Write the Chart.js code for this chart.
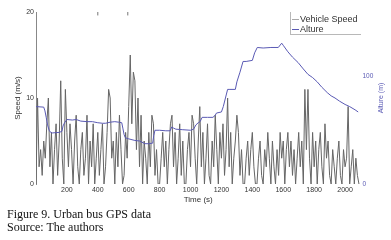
<!DOCTYPE html>
<html>
<head>
<meta charset="utf-8">
<script src="https://cdn.jsdelivr.net/npm/chart.js@4/dist/chart.umd.min.js"></script>
<style>
  html, body { margin: 0; padding: 0; background: #fff; }
  #wrap { position: relative; width: 391px; height: 240px; overflow: hidden; }
  #c { position: absolute; left: 0; top: 0; }
  .cap { position: absolute; left: 7px; font-family: "Liberation Serif", "Times New Roman", serif; font-size: 12px; line-height: 13px; color: #111; white-space: nowrap; }
  #legend { position: absolute; left: 290px; top: 12px; width: 70px; height: 22px; border-left: 1px solid #b8b8b8; border-bottom: 1px solid #b8b8b8; font-family: "Liberation Sans", Arial, sans-serif; font-size: 9px; color: #333; }
  .lg { position: absolute; left: 0; height: 10px; line-height: 10px; white-space: nowrap; }
  .lg i { display: inline-block; width: 7px; height: 1px; vertical-align: middle; margin: 0 1px 0 1px; }
  #ytitle2 { position: absolute; left: 380px; top: 98px; transform: translate(-50%, -50%) rotate(-90deg); font-family: "Liberation Sans", Arial, sans-serif; font-size: 7px; color: #5a5ab4; white-space: nowrap; }
</style>
</head>
<body>
<div id="wrap">
  <canvas id="c" width="391" height="240"></canvas>
  <div id="legend">
    <div class="lg" style="top:2px"><i style="background:#a8a8a8"></i>Vehicle Speed</div>
    <div class="lg" style="top:12px"><i style="background:#5a5ab4"></i>Alture</div>
  </div>
  <div id="ytitle2">Alture (m)</div>
  <div class="cap" style="top:208px">Figure 9. Urban bus GPS data</div>
  <div class="cap" style="top:221px">Source: The authors</div>
</div>
<script>
// ---- data ----
const SPEED_STEP = 10; // seconds between speed samples
const speedValues = [
  0,10,2,4,1,5,3,7,10,2, 6,0,4,7,1,5,12,3,0,11,
  6,2,7,4,0,5,8,2,0,4, 6,1,3,8,0,5,2,7,0,3,
  6,1,4,7,0,2,6,11,10,3, 5,0,6,2,8,4,0,1,6,3,
  9,15,7,13,12,4,10,2,8,0, 5,3,0,6,2,8,7,1,4,0,
  0,3,6,2,5,0,4,7,8,2, 6,0,3,7,1,5,0,0,4,6,
  2,8,7,3,0,5,9,2,6,0, 3,7,1,0,5,2,8,4,0,6,
  3,7,1,4,10,2,6,0,3,5, 8,6,1,4,0,0,3,5,1,4,
  6,2,0,0,3,5,1,0,4,2, 6,3,0,5,2,0,4,1,6,3,
  5,0,4,6,2,5,1,4,0,3, 6,2,5,0,11,4,11,3,0,6,
  2,5,0,4,6,2,0,7,3,5, 1,0,4,2,0,3,5,1,0,4,
  2,3,9,0,2,4,0,3,1,0
];
const altTime = [0,50,58,66,75,85,95,105,150,168,175,185,200,235,260,290,330,365,400,430,450,480,510,535,555,562,570,578,600,640,670,705,730,755,762,770,800,840,868,878,890,905,950,1000,1020,1035,1050,1062,1075,1110,1145,1160,1168,1200,1212,1240,1255,1290,1300,1320,1340,1360,1400,1415,1432,1470,1520,1568,1590,1600,1630,1660,1696,1730,1760,1790,1820,1850,1885,1910,1935,1965,2000,2030,2065,2085];
const altValues = [72,71.5,68,62,55,50,48,47.5,48,49,54,57,60,59.5,60,58.5,58,58,57,56.5,56.5,57.5,58,57.5,57,52,46,43,42,40.5,40,37.5,37.5,38,45,50,50,49.5,49.5,53,52,51,50.5,50,51,55,57,58,62,62,62,64,66,67,72,88,88,88,95,104,114,114,115,122,127,126.5,127,127,131,129,123,118,113,107,102,99,95,90,85,82,80,77,74,72,69,67];
const topMarkTimes = [400, 594];
const xTicks = [200,400,600,800,1000,1200,1400,1600,1800,2000];

const speedPts = speedValues.map((v, i) => ({x: i * SPEED_STEP, y: v}));
const altPts = altTime.map((t, i) => ({x: t, y: altValues[i]}));
const markPts = [];
topMarkTimes.forEach(t => { markPts.push({x: t, y: 19.6}, {x: t, y: 20}, {x: t + 1, y: null}); });

const tickFont = {family: '"Liberation Sans", Arial, sans-serif', size: 7};
const titleFont = {family: '"Liberation Sans", Arial, sans-serif', size: 8};

new Chart(document.getElementById('c'), {
  type: 'line',
  data: {
    datasets: [
      {label: 'Vehicle Speed', data: speedPts, yAxisID: 'y', borderColor: '#666', borderWidth: 1, pointRadius: 0, tension: 0, order: 2},
      {label: 'marks', data: markPts, yAxisID: 'y', borderColor: '#777', borderWidth: 1, pointRadius: 0, spanGaps: false, order: 3},
      {label: 'Alture', data: altPts, yAxisID: 'y2', borderColor: '#5a5ab4', borderWidth: 1, pointRadius: 0, tension: 0, order: 1}
    ]
  },
  options: {
    responsive: false,
    animation: false,
    devicePixelRatio: 1,
    layout: {padding: {top: 12, left: 0, right: 0, bottom: 0}},
    plugins: {legend: {display: false}, tooltip: {enabled: false}},
    scales: {
      x: {
        type: 'linear', min: 0, max: 2100, bounds: 'data',
        afterBuildTicks: s => { s.ticks = xTicks.map(v => ({value: v})); },
        afterFit: s => { s.height = 56; },
        grid: {display: false, drawTicks: false},
        border: {display: false},
        ticks: {font: tickFont, color: '#333', padding: 2, maxRotation: 0, autoSkip: false, callback: v => String(v)},
        title: {display: true, text: 'Time (s)', font: titleFont, color: '#333', padding: {top: 0, bottom: 35.7}}
      },
      y: {
        position: 'left', min: 0, max: 20, bounds: 'data',
        afterFit: s => { s.width = 36; },
        grid: {display: false, drawTicks: false},
        border: {display: true, color: '#888', width: 1},
        ticks: {stepSize: 10, font: tickFont, color: '#333', padding: 2, callback: v => String(v)},
        title: {display: true, text: 'Speed (m/s)', font: titleFont, color: '#333', padding: {top: 13, bottom: 0}}
      },
      y2: {
        position: 'right', min: 0, max: 160, bounds: 'data',
        afterBuildTicks: s => { s.ticks = [{value: 0}, {value: 100}]; },
        afterFit: s => { s.width = 30.5; },
        grid: {display: false, drawTicks: false},
        border: {display: false},
        ticks: {font: {family: '"Liberation Sans", Arial, sans-serif', size: 6.5}, color: '#5a5ab4', padding: 2, callback: v => String(v)}
      }
    }
  }
});
</script>
</body>
</html>
